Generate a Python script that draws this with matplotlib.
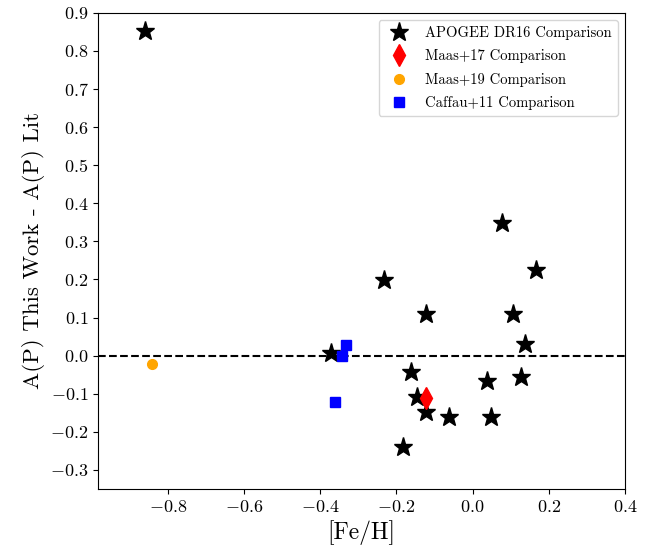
import matplotlib
matplotlib.use("Agg")
import matplotlib.pyplot as plt

plt.rcParams["font.family"] = "serif"
plt.rcParams["font.serif"] = ["cmr10"]
plt.rcParams["mathtext.fontset"] = "cm"
plt.rcParams["axes.formatter.use_mathtext"] = True

# APOGEE DR16 comparison
apogee_feh = [-0.86, -0.372, -0.232, -0.122, 0.107, 0.138, -0.162, 0.037,
              0.127, -0.145, -0.122, -0.062, 0.048, -0.182, 0.077, 0.167]
apogee_dp = [0.853, 0.006, 0.198, 0.109, 0.109, 0.030, -0.042, -0.067,
             -0.057, -0.108, -0.147, -0.162, -0.162, -0.239, 0.348, 0.225]

# Maas+17
maas17_feh = [-0.122]
maas17_dp = [-0.112]

# Maas+19
maas19_feh = [-0.841]
maas19_dp = [-0.022]

# Caffau+11
caffau_feh = [-0.332, -0.342, -0.362]
caffau_dp = [0.028, -0.001, -0.122]

fig = plt.figure(figsize=(6.5, 5.53), dpi=100)
ax = fig.add_axes([0.151, 0.1157, 0.8105, 0.8613])

ax.axhline(0.0, color="black", linestyle="--", linewidth=1.5, zorder=1)
ax.plot(apogee_feh, apogee_dp, linestyle="none", marker="*", color="black",
        markersize=14, label="APOGEE DR16 Comparison", zorder=2)
ax.plot(maas17_feh, maas17_dp, linestyle="none", marker="d", color="red",
        markersize=11, label="Maas+17 Comparison", zorder=3)
ax.plot(maas19_feh, maas19_dp, linestyle="none", marker="o", color="orange",
        markersize=7, label="Maas+19 Comparison", zorder=3)
ax.plot(caffau_feh, caffau_dp, linestyle="none", marker="s", color="blue",
        markersize=7, label="Caffau+11 Comparison", zorder=3)

ax.set_xlim(-0.983, 0.4)
ax.set_ylim(-0.35, 0.9)
ax.set_xticks([-0.8, -0.6, -0.4, -0.2, 0.0, 0.2, 0.4])
ax.set_yticks([-0.3, -0.2, -0.1, 0.0, 0.1, 0.2, 0.3, 0.4, 0.5, 0.6, 0.7, 0.8, 0.9])
ax.tick_params(labelsize=13)

ax.set_xlabel("[Fe/H]", fontsize=17)
ax.set_ylabel("A(P) This Work - A(P) Lit", fontsize=16.5)

ax.legend(loc="upper right", fontsize=10.5, labelspacing=0.65)

fig.savefig("out.png", dpi=100)
